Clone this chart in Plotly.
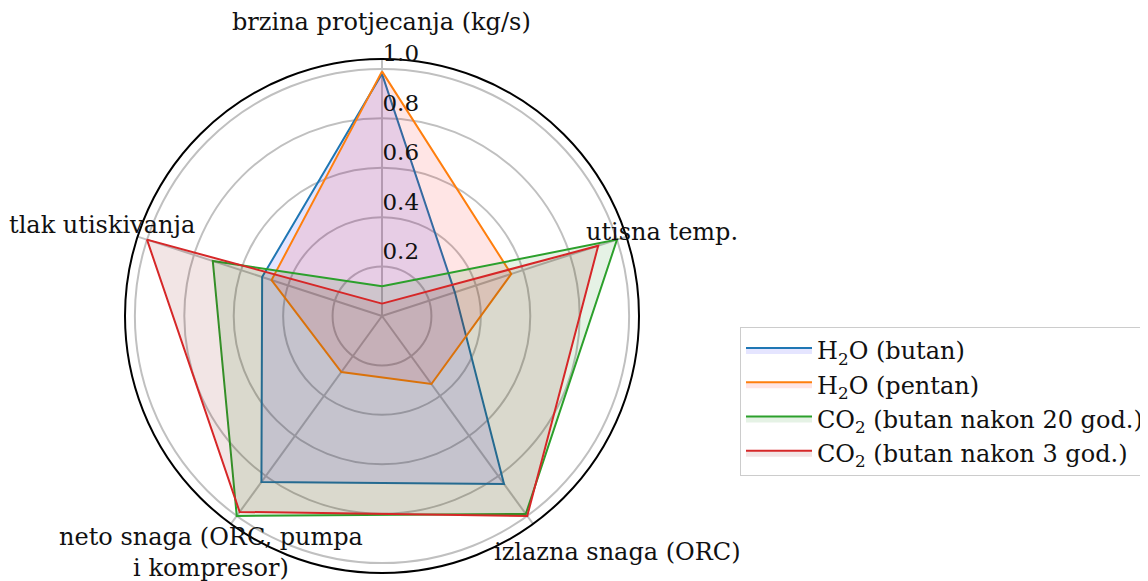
import plotly.graph_objects as go

categories = ["brzina protjecanja (kg/s)", "utisna temp.", "izlazna snaga (ORC)",
              "neto snaga (ORC, pumpa i kompresor)", "tlak utiskivanja"]

h2o_butan = [0.98, 0.31, 0.84, 0.83, 0.51]
h2o_pentan = [0.99, 0.55, 0.34, 0.28, 0.47]
co2_butan_20 = [0.12, 1.00, 0.99, 1.00, 0.72]
co2_butan_3 = [0.05, 0.92, 1.00, 0.98, 1.00]

series_names = ["H<sub>2</sub>O (butan)", "H<sub>2</sub>O (pentan)",
                "CO<sub>2</sub> (butan nakon 20 god.)", "CO<sub>2</sub> (butan nakon 3 god.)"]
series_values = [h2o_butan, h2o_pentan, co2_butan_20, co2_butan_3]

radial_ticks = [0.2, 0.4, 0.6, 0.8, 1.0]

line_colors = ["#1f77b4", "#ff7f0e", "#2ca02c", "#d62728"]
fill_colors = ["rgba(0,0,255,0.1)", "rgba(255,0,0,0.1)", "rgba(0,128,0,0.1)", "rgba(128,0,0,0.1)"]

FONT = "DejaVu Serif"
TXT = '#111111'

fig = go.Figure()
for i, vals in enumerate(series_values):
    # close the polygon
    fig.add_trace(go.Scatterpolar(
        r=vals + vals[:1],
        theta=categories + categories[:1],
        mode='lines',
        name=series_names[i],
        fill='toself',
        fillcolor=fill_colors[i],
        line=dict(color=line_colors[i], width=2),
    ))

# page has an 8px body margin, so positions below are page px minus 8
fig.update_layout(
    width=1148, height=581,
    margin=dict(l=0, r=0, t=0, b=0),
    paper_bgcolor='white',
    font=dict(family=FONT, size=24, color=TXT),
    polar=dict(
        domain=dict(x=[117 / 1148, 631 / 1148], y=[1 - 565 / 581, 1 - 51 / 581]),
        bgcolor='white',
        angularaxis=dict(
            rotation=90, direction='clockwise',
            showline=True, linecolor='black', linewidth=2,
            gridcolor='#c0c0c0', gridwidth=1.5,
            showticklabels=False, ticks='',
        ),
        radialaxis=dict(
            range=[0, 1.04], angle=90, tickangle=90,
            tickvals=radial_ticks, ticktext=[f"{t:.1f}<br> " for t in radial_ticks],
            showline=False, ticks='',
            gridcolor='#c0c0c0', gridwidth=1.5,
            tickfont=dict(family=FONT, size=23, color=TXT),
        ),
    ),
    legend=dict(
        x=732 / 1148, y=1 - 319 / 581, xanchor='left', yanchor='top',
        bordercolor='#cccccc', borderwidth=1, bgcolor='white',
        itemwidth=66,
        font=dict(family=FONT, size=24, color=TXT),
    ),
    showlegend=True,
)

# category labels, placed like the matplotlib tick labels
label_pos = [(373, 14), (654, 224), (609, 544), (203, 544), (94, 217)]
label_text = ["brzina protjecanja (kg/s)", "utisna temp.", "izlazna snaga (ORC)",
              "neto snaga (ORC, pumpa<br>i kompresor)", "tlak utiskivanja"]
for (px_x, px_y), txt in zip(label_pos, label_text):
    fig.add_annotation(
        x=px_x / 1148, y=1 - px_y / 581, xref='paper', yref='paper',
        text=txt, showarrow=False, xanchor='center', yanchor='middle',
        font=dict(family=FONT, size=24, color=TXT),
    )

fig.write_html("out.html")
